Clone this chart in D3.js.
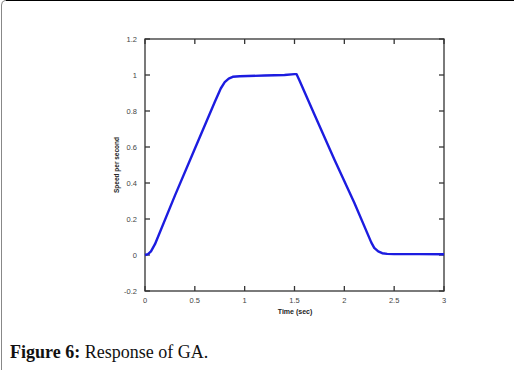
<!DOCTYPE html>
<head>
  <meta charset="utf-8">
  <script src="https://d3js.org/d3.v7.min.js"></script>
  <style>
    body { margin:0; background:#fff; }
  </style>
</head>
<body>
  <script>
    var width = 514;
    var height = 370;

    // values
    var timeSec = [0, 0.03, 0.06, 0.1, 0.3, 0.5, 0.7, 0.76, 0.8, 0.84, 0.88, 0.95, 1.2, 1.4, 1.5, 1.52,
                   1.55, 1.7, 1.9, 2.1, 2.27, 2.3, 2.34, 2.38, 2.43, 2.5, 2.75, 3.0];
    var speed   = [0, 0.005, 0.02, 0.06, 0.33, 0.59, 0.85, 0.925, 0.96, 0.98, 0.99, 0.993, 0.997, 1.0, 1.005, 1.005,
                   0.97, 0.78, 0.53, 0.29, 0.07, 0.04, 0.02, 0.01, 0.006, 0.005, 0.005, 0.004];
    var xTicks = [0, 0.5, 1, 1.5, 2, 2.5, 3];
    var yTicks = [-0.2, 0, 0.2, 0.4, 0.6, 0.8, 1, 1.2];

    var svg = d3.select("body")
      .append("svg")
      .attr("width", width)
      .attr("height", height);

    // page frame
    svg.append("path")
      .attr("d", "M1.5,370 L1.5,5 Q1.5,1 5,0.5 L514,0.5")
      .attr("fill", "none")
      .attr("stroke", "#888")
      .attr("stroke-width", 1);
    svg.append("line")
      .attr("x1", 6).attr("x2", 514).attr("y1", 0.5).attr("y2", 0.5)
      .attr("stroke", "#000").attr("stroke-width", 1.2);

    var pLeft = 145, pRight = 444, pTop = 39, pBottom = 291;

    var x = d3.scaleLinear().domain([0, 3]).range([pLeft, pRight]);
    var y = d3.scaleLinear().domain([-0.2, 1.2]).range([pBottom, pTop]);

    var g = svg.append("g");

    // box
    g.append("rect")
      .attr("x", pLeft).attr("y", pTop)
      .attr("width", pRight - pLeft).attr("height", pBottom - pTop)
      .attr("fill", "none").attr("stroke", "#333").attr("stroke-width", 1.3);

    var tl = 5;
    // ticks on all four sides, pointing inward
    xTicks.forEach(function(t) {
      g.append("line").attr("x1", x(t)).attr("x2", x(t)).attr("y1", pBottom).attr("y2", pBottom - tl)
        .attr("stroke", "#333").attr("stroke-width", 1.3);
      g.append("line").attr("x1", x(t)).attr("x2", x(t)).attr("y1", pTop).attr("y2", pTop + tl)
        .attr("stroke", "#333").attr("stroke-width", 1.3);
    });
    yTicks.forEach(function(t) {
      g.append("line").attr("x1", pLeft).attr("x2", pLeft + tl).attr("y1", y(t)).attr("y2", y(t))
        .attr("stroke", "#333").attr("stroke-width", 1.3);
      g.append("line").attr("x1", pRight).attr("x2", pRight - tl).attr("y1", y(t)).attr("y2", y(t))
        .attr("stroke", "#333").attr("stroke-width", 1.3);
    });

    g.selectAll(".xl").data(xTicks).enter().append("text")
      .attr("x", function(d) { return x(d); })
      .attr("y", pBottom + 12)
      .attr("text-anchor", "middle")
      .attr("font-family", "Liberation Sans, Arial, sans-serif")
      .attr("font-size", 7.5)
      .attr("fill", "#444")
      .text(function(d) { return d; });

    g.selectAll(".yl").data(yTicks).enter().append("text")
      .attr("x", pLeft - 8)
      .attr("y", function(d) { return y(d) + 2.5; })
      .attr("text-anchor", "end")
      .attr("font-family", "Liberation Sans, Arial, sans-serif")
      .attr("font-size", 7.5)
      .attr("fill", "#444")
      .text(function(d) { return d; });

    g.append("text")
      .attr("x", 295).attr("y", 314)
      .attr("text-anchor", "middle")
      .attr("font-family", "Liberation Sans, Arial, sans-serif")
      .attr("font-size", 7)
      .attr("font-weight", "bold")
      .attr("fill", "#222")
      .text("Time (sec)");

    g.append("text")
      .attr("transform", "translate(119,165) rotate(-90)")
      .attr("text-anchor", "middle")
      .attr("font-family", "Liberation Sans, Arial, sans-serif")
      .attr("font-size", 6.5)
      .attr("font-weight", "bold")
      .attr("fill", "#222")
      .text("Speed per second");

    var line = d3.line()
      .x(function(d, i) { return x(timeSec[i]); })
      .y(function(d) { return y(d); })
      .curve(d3.curveLinear);

    g.append("path")
      .datum(speed)
      .attr("d", line)
      .attr("fill", "none")
      .attr("stroke", "#1c1ce0")
      .attr("stroke-width", 2.4)
      .attr("stroke-linejoin", "round");

    // caption
    var cap = svg.append("text")
      .attr("x", 10).attr("y", 358)
      .attr("font-family", "Liberation Serif, serif")
      .attr("font-size", 18)
      .attr("fill", "#111");
    cap.append("tspan").attr("font-weight", "bold").text("Figure 6:");
    cap.append("tspan").text(" Response of GA.");
  </script>
</body>
